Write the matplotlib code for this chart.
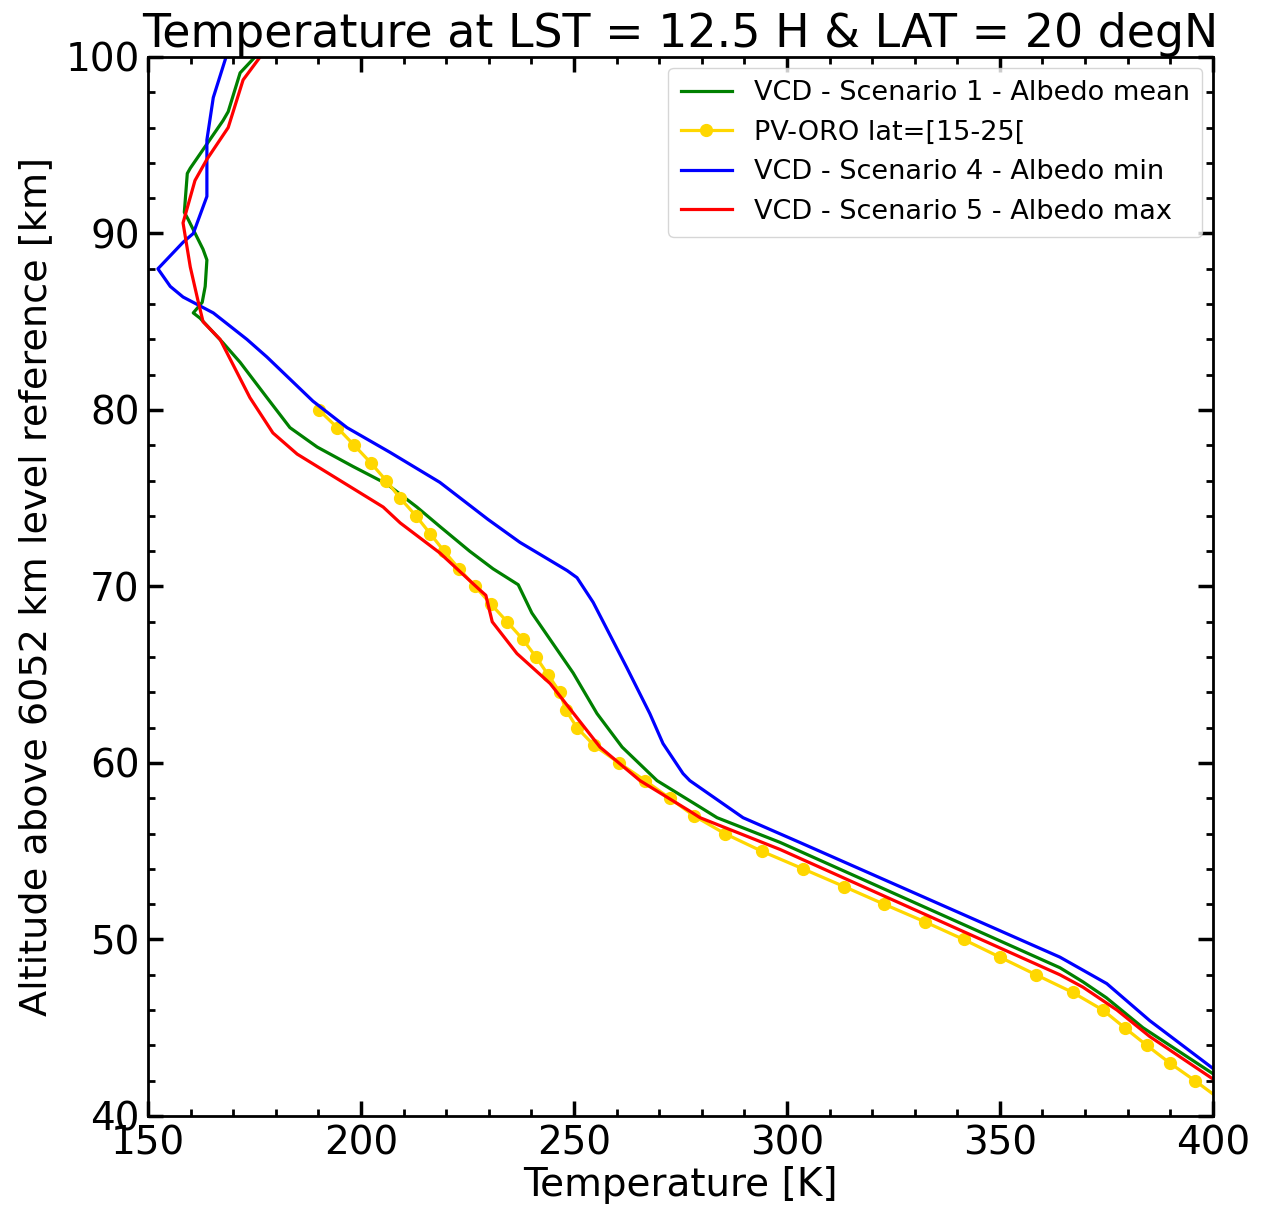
import matplotlib
matplotlib.use("Agg")
import matplotlib.pyplot as plt
from matplotlib.ticker import MultipleLocator

# PV-ORO lat=[15-25[
oro_alt = [80, 79, 78, 77, 76, 75, 74, 73, 72, 71, 70, 69, 68, 67, 66, 65, 64, 63, 62, 61,
           60, 59, 58, 57, 56, 55, 54, 53, 52, 51, 50, 49, 48, 47, 46, 45, 44, 43, 42, 41]
oro_temp = [190.1, 194.4, 198.4, 202.3, 205.9, 209.2, 212.9, 216.2, 219.5, 223.0,
            226.8, 230.5, 234.3, 238.0, 241.1, 243.9, 246.7, 248.1, 250.7, 254.7,
            260.6, 266.7, 272.5, 278.2, 285.4, 294.1, 303.8, 313.4, 322.8, 332.4,
            341.5, 350.0, 358.5, 367.1, 374.2, 379.3, 384.5, 389.9, 395.8, 401.4]

# VCD - Scenario 1 - Albedo mean
s1_alt = [100, 99.1, 96.9, 96.4, 93.7, 93.4, 91.2, 90.8, 89.1, 88.5, 87.0, 86.1, 85.5, 85.2,
          83.8, 82.7, 80.7, 79.0, 77.9, 76.8, 75.8, 74.5, 73.4, 72.0, 71.0, 70.1, 68.5,
          65.1, 62.8, 60.9, 59.0, 57.5, 56.9, 55.5, 48.4, 47.6, 46.7, 45.0, 42.4, 41.8]
s1_temp = [175.1, 171.6, 168.8, 167.6, 159.9, 159.2, 158.5, 159.4, 162.9, 163.8, 163.4, 162.7,
           160.6, 162.2, 167.6, 171.6, 177.9, 183.3, 189.7, 198.1, 206.1, 213.1, 218.5, 225.5,
           231.0, 236.9, 240.1, 249.8, 255.4, 261.3, 269.5, 279.6, 283.6, 298.4, 364.1,
           369.5, 375.0, 383.6, 400.0, 404.0]

# VCD - Scenario 4 - Albedo min
s4_alt = [100, 97.7, 95.3, 92.1, 90.0, 89.5, 88.0, 87.0, 86.4, 85.5, 84.0, 83.0, 80.5, 79.0,
          77.6, 75.9, 73.8, 72.5, 70.9, 70.5, 69.1, 65.4, 62.8, 61.1, 59.4, 59.0, 56.9, 55.5,
          49.0, 47.5, 45.4, 42.7, 42.0]
s4_temp = [168.3, 165.3, 163.8, 163.8, 160.6, 158.2, 152.3, 155.2, 158.2, 165.3, 173.2, 177.9,
           188.7, 196.7, 206.8, 218.5, 229.8, 237.3, 248.4, 250.7, 254.5, 262.4, 267.8, 270.9,
           275.6, 277.2, 289.7, 303.0, 364.1, 375.1, 385.2, 400.0, 404.0]

# VCD - Scenario 5 - Albedo max
s5_alt = [100, 98.7, 96.0, 94.2, 93.0, 90.6, 88.1, 86.2, 85.0, 84.0, 80.7, 78.7, 77.5, 76.0,
          74.5, 73.6, 71.9, 69.8, 69.5, 68.0, 66.2, 64.5, 60.9, 59.0, 57.3, 56.9, 55.1, 48.0,
          47.3, 46.0, 44.5, 42.1, 41.5]
s5_temp = [176.3, 172.3, 168.8, 163.8, 161.0, 158.2, 159.9, 161.7, 162.9, 166.9, 173.9, 179.3,
           185.0, 195.1, 205.2, 209.2, 218.5, 227.9, 229.3, 230.8, 236.6, 244.4, 256.1, 265.5,
           277.0, 279.6, 298.4, 364.1, 369.5, 377.5, 385.2, 400.0, 404.0]

title = "Temperature at LST = 12.5 H & LAT = 20 degN"
xlabel = "Temperature [K]"
ylabel = "Altitude above 6052 km level reference [km]"

fig = plt.figure(figsize=(12.66, 12.07), dpi=100)
ax = fig.add_axes([0.117, 0.0754, 0.841, 0.8774])

lw = 2.3
ax.plot(s1_temp, s1_alt, color="green", lw=lw, label="VCD - Scenario 1 - Albedo mean")
ax.plot(oro_temp, oro_alt, color="gold", lw=lw, marker="o", markersize=8.5,
        label="PV-ORO lat=[15-25[")
ax.plot(s4_temp, s4_alt, color="blue", lw=lw, label="VCD - Scenario 4 - Albedo min")
ax.plot(s5_temp, s5_alt, color="red", lw=lw, label="VCD - Scenario 5 - Albedo max")

ax.set_xlim(150, 400)
ax.set_ylim(40, 100)
ax.xaxis.set_major_locator(MultipleLocator(50))
ax.xaxis.set_minor_locator(MultipleLocator(10))
ax.yaxis.set_major_locator(MultipleLocator(10))
ax.yaxis.set_minor_locator(MultipleLocator(2))
ax.tick_params(which="both", direction="in", top=True, right=True, labelsize=28)
ax.tick_params(which="major", length=11, width=2.5, pad=6)
ax.tick_params(which="minor", length=5, width=2)
for s in ax.spines.values():
    s.set_linewidth(2)

ax.set_title(title, fontsize=33, pad=4)
ax.set_xlabel(xlabel, fontsize=28, labelpad=3)
ax.set_ylabel(ylabel, fontsize=27.5, labelpad=8)
ax.legend(loc="upper right", fontsize=19.5, handlelength=1.9, borderpad=0.45,
          labelspacing=0.5, borderaxespad=0.4, handletextpad=0.8)

fig.savefig("out.png", dpi=100)
